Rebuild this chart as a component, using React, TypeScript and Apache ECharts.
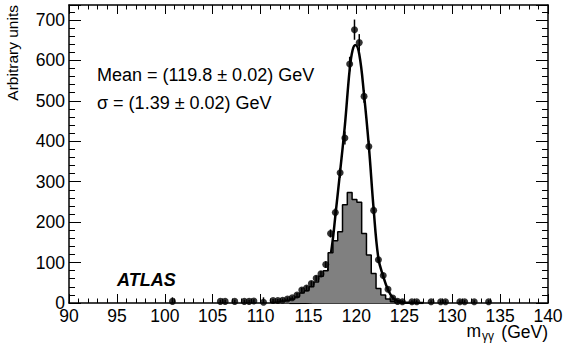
import React, { useEffect, useRef } from "react";
import * as echarts from "echarts";

// ---- data ----
// measured points (bin centre, value, error)
const pointX = [100.8, 105.8, 106.3, 107.3, 108.3, 108.8, 109.3, 110.3, 111.3, 111.8, 112.3, 112.8, 113.3, 113.8, 114.3, 114.8, 115.3, 115.8, 116.3, 116.8, 117.3, 117.8, 118.3, 118.8, 119.3, 119.8, 120.3, 120.8, 121.3, 121.8, 122.3, 122.8, 123.3, 123.8, 124.3, 124.8, 125.8, 126.3, 127.8, 128.8, 129.3, 130.8, 131.3, 132.3, 133.8];
const pointY = [4, 4, 4, 4, 4, 4, 5, 2, 6, 6, 7, 10, 13, 20, 32, 37, 48, 61, 72, 95, 172, 224, 322, 408, 591, 676, 644, 511, 387, 229, 107, 68, 34, 12, 4, 3, 3, 3, 3, 3, 3, 3, 3, 3, 3];
const pointErr = [10, 4, 4, 4, 4, 4, 4, 12, 4, 4, 4, 4, 4, 5, 6, 6, 6, 7, 7, 8, 10, 10, 12, 16, 18, 25, 21, 16, 14, 10, 8, 6, 5, 4, 4, 4, 4, 4, 4, 4, 4, 4, 4, 4, 4];

// grey histogram: first bin low edge, bin width, contents
const histStart = 111.05;
const histWidth = 0.5;
const histValues = [2, 3, 5, 7, 10, 15, 25, 30, 40, 52, 66, 80, 124, 154, 176, 243, 273, 256, 249, 172, 119, 73, 36, 20, 10, 3];

// fitted curve
const curveX = [113.0, 114.0, 115.0, 115.5, 116.0, 116.5, 117.0, 117.5, 117.8, 118.3, 118.8, 119.3, 119.6, 119.9, 120.3, 120.8, 121.3, 121.8, 122.3, 122.8, 123.3, 123.8, 124.3, 124.8, 125.5, 127.0];
const curveY = [0, 0.3, 1.5, 4, 12, 32, 75, 150, 215, 325, 440, 578, 625, 638, 615, 515, 388, 232, 110, 66, 33, 13, 5, 2, 0.5, 0];

const xTicks = { min: 90, max: 140, step: 5 };
const yTicks = { min: 0, max: 737, step: 100 };

const FONT = "Liberation Sans, Arial, Helvetica, sans-serif";

export default function App() {
  const ref = useRef<HTMLDivElement>(null);
  useEffect(() => {
    if (!ref.current) return;
    const chart = echarts.init(ref.current, undefined, { renderer: "svg" });

    const histData: number[][] = [];
    histData.push([histStart, 0]);
    histValues.forEach((v, i) => {
      const lo = histStart + i * histWidth;
      histData.push([lo, v]);
      histData.push([lo + histWidth, v]);
    });
    histData.push([histStart + histValues.length * histWidth, 0]);

    const pts = pointX.map((x, i) => [x, pointY[i]]);
    const errs = pointX.map((x, i) => [x, pointY[i], pointErr[i]]);
    const curve = curveX.map((x, i) => [x, curveY[i]]);

    const xBase = (pos: "bottom" | "top", labels: boolean) => ({
      type: "value",
      position: pos,
      min: xTicks.min,
      max: xTicks.max,
      interval: xTicks.step,
      axisLine: { show: true, onZero: false, lineStyle: { color: "#000", width: 1.5 } },
      axisTick: { show: true, inside: true, length: 9, lineStyle: { color: "#000", width: 1 } },
      minorTick: { show: true, splitNumber: 5, length: 4.5, lineStyle: { color: "#000", width: 1 } },
      splitLine: { show: false },
      minorSplitLine: { show: false },
      axisLabel: { show: labels, color: "#000", fontSize: 17.5, fontFamily: FONT, margin: 4 },
    });
    const yBase = (pos: "left" | "right", labels: boolean) => ({
      type: "value",
      position: pos,
      min: yTicks.min,
      max: yTicks.max,
      interval: yTicks.step,
      axisLine: { show: true, onZero: false, lineStyle: { color: "#000", width: 1.5 } },
      axisTick: { show: true, inside: true, length: 12, lineStyle: { color: "#000", width: 1 } },
      minorTick: { show: true, splitNumber: 5, length: 6, lineStyle: { color: "#000", width: 1 } },
      splitLine: { show: false },
      minorSplitLine: { show: false },
      axisLabel: {
        show: labels,
        color: "#000",
        fontSize: 17.5,
        fontFamily: FONT,
        margin: 4,
        formatter: (v: number) => (v % yTicks.step === 0 ? String(v) : ""),
      },
    });

    chart.setOption({
      animation: false,
      backgroundColor: "#fff",
      grid: { left: 69, right: 27, top: 5, bottom: 46, containLabel: false },
      xAxis: [xBase("bottom", true), xBase("top", false)],
      yAxis: [yBase("left", true), yBase("right", false)],
      series: [
        {
          type: "line",
          data: curve,
          symbol: "none",
          smooth: 0.4,
          lineStyle: { color: "#000", width: 2.5 },
          z: 2,
        },
        {
          type: "line",
          data: histData,
          symbol: "none",
          lineStyle: { color: "#000", width: 1.5 },
          areaStyle: { color: "#808080", opacity: 1 },
          z: 3,
        },
        {
          type: "custom",
          data: errs,
          z: 4,
          renderItem: (params: any, api: any) => {
            const x = api.value(0);
            const y = api.value(1);
            const e = api.value(2);
            const top = api.coord([x, y + e]);
            const bot = api.coord([x, Math.max(0, y - e)]);
            return {
              type: "line",
              shape: { x1: top[0], y1: top[1], x2: bot[0], y2: bot[1] },
              style: { stroke: "#000", lineWidth: 1.5 },
            };
          },
        },
        {
          type: "scatter",
          data: pts,
          symbol: "circle",
          symbolSize: 7,
          itemStyle: { color: "#000" },
          z: 5,
        },
      ],
      graphic: [
        {
          type: "text",
          x: 97,
          y: 75,
          style: { text: "Mean = (119.8 ± 0.02) GeV", fontSize: 18, fontFamily: FONT, fill: "#000", verticalAlign: "middle", align: "left" },
        },
        {
          type: "text",
          x: 97,
          y: 103,
          style: { text: "σ = (1.39 ± 0.02) GeV", fontSize: 18, fontFamily: FONT, fill: "#000", verticalAlign: "middle", align: "left" },
        },
        {
          type: "text",
          x: 117,
          y: 280,
          style: { text: "ATLAS", fontSize: 18, fontFamily: FONT, fontWeight: "bold", fontStyle: "italic", fill: "#000", verticalAlign: "middle", align: "left" },
        },
        {
          type: "text",
          x: 12,
          y: 5,
          rotation: Math.PI / 2,
          style: { text: "Arbitrary units", fontSize: 15.5, fontFamily: FONT, fill: "#000", verticalAlign: "middle", align: "right" },
        },
        {
          type: "text",
          x: 548,
          y: 332,
          style: { text: "(GeV)", fontSize: 17.5, fontFamily: FONT, fill: "#000", verticalAlign: "middle", align: "right" },
        },
        {
          type: "text",
          x: 494,
          y: 336,
          style: { text: "γγ", fontSize: 12, fontFamily: FONT, fill: "#000", verticalAlign: "middle", align: "right" },
        },
        {
          type: "text",
          x: 481,
          y: 331,
          style: { text: "m", fontSize: 17.5, fontFamily: FONT, fill: "#000", verticalAlign: "middle", align: "right" },
        },
      ],
    });
    return () => chart.dispose();
  }, []);
  return (
    <div
      ref={ref}
      style={{ position: "absolute", left: 0, top: 0, width: 575, height: 349, background: "#fff" }}
    />
  );
}
